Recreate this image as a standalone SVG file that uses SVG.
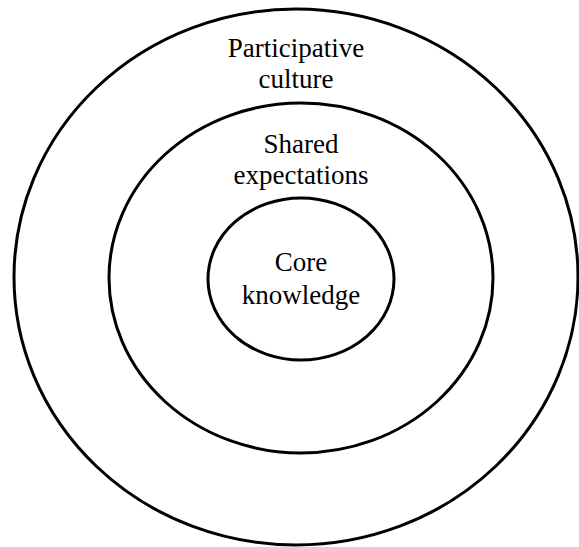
<svg xmlns="http://www.w3.org/2000/svg" width="579" height="547" viewBox="0 0 579 547">
<style>
.ring{fill:none;stroke:#000;stroke-width:3}
.t{font-family:"Liberation Serif","Times New Roman",serif;font-size:27px;fill:#000;text-anchor:middle}
</style>
<rect width="579" height="547" fill="#fff"/>
<g id="outer">
<ellipse class="ring" cx="296" cy="277" rx="282" ry="268"/>
<text class="t" x="296" y="57">Participative</text>
<text class="t" x="296" y="88">culture</text>
</g>
<g id="middle">
<ellipse class="ring" cx="301" cy="278" rx="192" ry="175"/>
<text class="t" x="301" y="153">Shared</text>
<text class="t" x="301" y="184">expectations</text>
</g>
<g id="inner">
<ellipse class="ring" cx="301" cy="279" rx="93" ry="81"/>
<text class="t" x="301" y="271">Core</text>
<text class="t" x="301" y="304">knowledge</text>
</g>
<g id="connectors"/>
</svg>
